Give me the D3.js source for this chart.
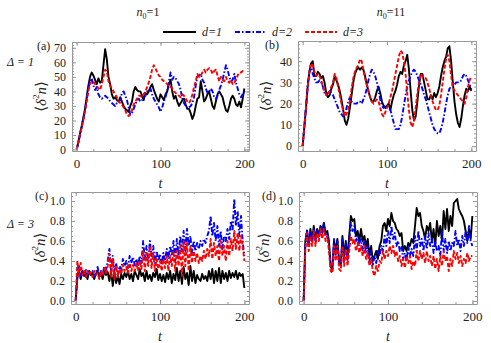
<!DOCTYPE html>
<html>
<head>
<meta charset="utf-8">
<script src="https://cdn.jsdelivr.net/npm/d3@7"></script>
<style>
  body { margin: 0; background: #fff; }
  text { font-family: "Liberation Serif", "DejaVu Serif", serif; fill: #222; }
</style>
</head>
<body>
<div id="chart-area"></div>
<script>
// time grid: t = 0, 2, ..., 200
var times = d3.range(0, 201, 2);

// (a) n0=1, Delta=1
var aD1 = [0,5,11,16,22,28,36,44,50,53,51,48,45,49,46,47,58,69,62,50,45,38,35,36,34,33,36,33,30,28,27,26,30,33,40,43,41,40,40,37,34,39,38,40,43,45,41,38,35,33,38,36,34,38,40,45,48,40,35,37,33,30,32,34,35,31,28,28,25,21,24,30,35,36,47,40,33,35,38,40,35,30,28,33,38,40,38,36,31,27,26,30,35,37,35,31,30,33,29,35,42];
var aD2 = [0,4,10,15,21,27,35,42,47,49,44,41,43,38,36,35,36,37,36,35,33,32,31,30,32,33,34,39,40,37,34,29,24,25,28,31,34,35,33,34,36,37,40,41,42,38,35,33,31,29,26,29,33,36,41,47,53,48,50,49,47,45,41,35,32,30,28,29,30,32,36,44,50,51,52,48,46,42,39,40,42,40,36,35,37,41,44,48,53,58,55,50,47,48,52,46,42,38,36,38,40];
var aD3 = [0,5,10,15,20,26,33,40,45,47,47,45,44,42,41,45,50,55,54,47,44,42,40,38,36,33,32,31,29,27,24,23,25,27,31,33,35,37,37,36,38,40,43,46,50,55,58,56,53,51,50,48,47,46,45,43,43,42,40,39,38,37,36,38,37,35,33,32,34,38,43,47,52,50,51,53,55,53,55,56,55,52,54,55,51,47,50,48,47,50,47,46,48,45,46,48,51,53,53,54,54];

// (b) n0=11, Delta=1
var bD1 = [0,9,18,28,35,39,40,33,33,35,34,32,33,30,25,23,24,27,29,33,31,29,26,22,17,12,10,13,18,24,30,34,36,37,36,37,36,33,29,26,23,21,21,23,26,28,25,21,19,18,19,20,17,21,24,26,29,33,35,34,38,40,43,36,26,17,12,14,21,29,34,34,30,26,22,22,24,22,25,23,25,28,33,37,40,42,46,47,40,30,21,15,11,9,13,19,24,27,26,28,26];
var bD2 = [0,9,19,29,35,37,34,32,30,30,31,30,28,25,24,25,26,25,24,22,20,18,16,15,14,15,18,21,23,21,20,20,20,21,21,20,22,24,27,31,34,36,35,33,30,26,22,19,18,19,19,18,17,14,11,8,8,8,10,14,19,24,28,31,33,35,36,35,33,31,29,27,24,22,19,16,13,10,8,7,6,6,8,11,15,20,24,27,28,29,29,30,30,30,31,33,34,33,31,29,27];
var bD3 = [0,9,18,28,35,39,38,35,33,34,33,31,28,26,24,24,26,28,30,34,32,28,24,20,17,14,15,17,21,27,32,35,37,38,41,40,36,32,29,26,23,21,20,21,22,21,18,15,14,16,18,20,23,26,30,34,38,42,45,44,40,34,25,17,11,9,12,18,25,30,34,33,32,32,30,27,24,21,19,17,17,19,24,30,36,41,43,40,33,28,26,25,24,23,22,21,20,23,28,31,33];

// (c) n0=1, Delta=3
var cD1 = [0,0.25,0.3,0.22,0.3,0.25,0.28,0.22,0.3,0.26,0.28,0.22,0.27,0.3,0.24,0.28,0.22,0.3,0.26,0.29,0.2,0.3,0.15,0.28,0.18,0.25,0.17,0.27,0.22,0.28,0.24,0.3,0.22,0.27,0.2,0.3,0.26,0.22,0.32,0.25,0.28,0.2,0.3,0.22,0.26,0.2,0.28,0.24,0.32,0.21,0.27,0.2,0.26,0.19,0.28,0.22,0.3,0.18,0.27,0.21,0.33,0.2,0.3,0.17,0.34,0.22,0.28,0.16,0.35,0.2,0.3,0.18,0.26,0.22,0.2,0.27,0.22,0.25,0.2,0.3,0.22,0.32,0.18,0.3,0.2,0.33,0.18,0.3,0.22,0.28,0.2,0.3,0.23,0.28,0.24,0.3,0.22,0.28,0.25,0.27,0.13];
var cD2 = [0,0.22,0.35,0.25,0.3,0.27,0.32,0.24,0.3,0.27,0.3,0.25,0.28,0.34,0.26,0.3,0.26,0.35,0.3,0.4,0.52,0.3,0.45,0.3,0.38,0.26,0.35,0.32,0.42,0.35,0.4,0.33,0.45,0.38,0.44,0.36,0.42,0.35,0.45,0.38,0.6,0.42,0.55,0.4,0.6,0.45,0.55,0.38,0.5,0.4,0.47,0.36,0.48,0.4,0.52,0.42,0.55,0.45,0.6,0.4,0.62,0.45,0.65,0.5,0.7,0.5,0.72,0.55,0.65,0.48,0.6,0.5,0.58,0.52,0.6,0.55,0.62,0.58,0.65,0.7,0.85,0.65,0.78,0.6,0.75,0.55,0.7,0.52,0.65,0.6,0.72,0.62,0.8,0.7,1.02,0.75,0.9,0.65,0.85,0.6,0.45];
var cD3 = [0,0.4,0.25,0.38,0.26,0.3,0.24,0.3,0.26,0.29,0.24,0.3,0.26,0.28,0.22,0.3,0.25,0.33,0.28,0.35,0.47,0.24,0.42,0.22,0.35,0.24,0.32,0.27,0.36,0.3,0.34,0.28,0.38,0.3,0.36,0.3,0.38,0.3,0.4,0.32,0.5,0.3,0.48,0.35,0.55,0.33,0.48,0.3,0.42,0.32,0.4,0.3,0.42,0.33,0.45,0.3,0.45,0.35,0.5,0.3,0.5,0.35,0.55,0.25,0.6,0.35,0.58,0.3,0.55,0.38,0.5,0.4,0.48,0.38,0.45,0.4,0.5,0.42,0.52,0.45,0.62,0.42,0.58,0.45,0.55,0.4,0.6,0.45,0.55,0.4,0.6,0.45,0.62,0.5,0.7,0.52,0.68,0.5,0.65,0.55,0.4];

// (d) n0=11, Delta=3
var dD1 = [0,0.6,0.7,0.55,0.72,0.6,0.75,0.62,0.72,0.65,0.75,0.7,0.78,0.68,0.7,0.6,0.35,0.3,0.6,0.5,0.62,0.4,0.35,0.65,0.45,0.6,0.42,0.65,0.85,0.8,0.82,0.65,0.7,0.6,0.72,0.6,0.65,0.55,0.62,0.45,0.55,0.4,0.45,0.5,0.42,0.55,0.6,0.75,0.78,0.7,0.82,0.75,0.88,0.8,0.78,0.72,0.7,0.65,0.68,0.5,0.55,0.5,0.58,0.55,0.62,0.58,0.75,0.93,0.85,0.88,0.75,0.7,0.62,0.75,0.7,0.78,0.6,0.72,0.55,0.8,0.65,0.75,0.6,0.9,0.72,0.92,0.7,0.85,0.75,0.98,1.0,1.02,0.92,0.88,0.85,0.8,0.7,0.6,0.72,0.62,0.85];
var dD2 = [0,0.55,0.72,0.55,0.7,0.6,0.72,0.6,0.7,0.65,0.75,0.68,0.78,0.65,0.68,0.55,0.35,0.32,0.62,0.45,0.6,0.38,0.35,0.62,0.4,0.58,0.4,0.6,0.78,0.7,0.75,0.6,0.65,0.55,0.62,0.5,0.6,0.48,0.55,0.38,0.5,0.35,0.45,0.38,0.5,0.45,0.55,0.5,0.65,0.55,0.7,0.58,0.75,0.62,0.68,0.55,0.6,0.5,0.55,0.42,0.48,0.4,0.55,0.45,0.52,0.45,0.65,0.5,0.7,0.55,0.62,0.5,0.65,0.52,0.68,0.55,0.62,0.48,0.6,0.5,0.55,0.45,0.7,0.5,0.62,0.48,0.6,0.5,0.58,0.55,0.7,0.55,0.62,0.5,0.65,0.55,0.7,0.58,0.75,0.6,0.55];
var dD3 = [0,0.52,0.68,0.5,0.65,0.55,0.7,0.55,0.68,0.6,0.72,0.62,0.72,0.6,0.65,0.5,0.3,0.28,0.55,0.4,0.55,0.32,0.3,0.55,0.35,0.52,0.35,0.5,0.65,0.58,0.62,0.5,0.58,0.48,0.55,0.45,0.55,0.42,0.48,0.35,0.42,0.3,0.25,0.35,0.3,0.4,0.38,0.5,0.42,0.5,0.45,0.55,0.48,0.55,0.45,0.5,0.4,0.45,0.35,0.42,0.33,0.45,0.38,0.45,0.32,0.4,0.35,0.5,0.4,0.5,0.42,0.48,0.38,0.5,0.4,0.45,0.35,0.45,0.32,0.42,0.3,0.45,0.35,0.5,0.4,0.45,0.3,0.42,0.35,0.5,0.42,0.48,0.38,0.45,0.35,0.42,0.38,0.48,0.4,0.45,0.45];

var seriesNames = ["d=1", "d=2", "d=3"];
var seriesColors = ["#000000", "#0000ff", "#ff0000"];
var seriesDash = [null, "5,2,1.5,2", "4,2"];

var xTicks = [0, 100, 200];
var yTicksTop = [0, 10, 20, 30, 40, 50, 60, 70];
var yTicksB = [0, 10, 20, 30, 40];
var yTicksBottom = [0.0, 0.2, 0.4, 0.6, 0.8, 1.0];

var panels = [
    { tag: "(a)", left: 72, right: 249, top: 42, bottom: 151, yDom: [-1, 74],
      yTicks: yTicksTop, yMinor: d3.range(0, 75, 2), fmt: d3.format("d"),
      data: [aD1, aD2, aD3], ylabX: 43, tagX: 37 },
    { tag: "(b)", left: 298, right: 476, top: 41, bottom: 151, yDom: [-2.3, 49.5],
      yTicks: yTicksB, yMinor: d3.range(0, 50, 2), fmt: d3.format("d"),
      data: [bD1, bD2, bD3], ylabX: 268, tagX: 265 },
    { tag: "(c)", left: 71, right: 249, top: 192, bottom: 304, yDom: [-0.03, 1.09],
      yTicks: yTicksBottom, yMinor: d3.range(0, 1.09, 0.05), fmt: d3.format(".1f"),
      data: [cD1, cD2, cD3], ylabX: 42, tagX: 35 },
    { tag: "(d)", left: 299, right: 477, top: 192, bottom: 304, yDom: [-0.03, 1.09],
      yTicks: yTicksBottom, yMinor: d3.range(0, 1.09, 0.05), fmt: d3.format(".1f"),
      data: [dD1, dD2, dD3], ylabX: 266, tagX: 262 }
];

var svg = d3.select("#chart-area")
    .append("svg")
    .attr("width", 491)
    .attr("height", 343);

var xMinor = d3.range(0, 201, 20);

panels.forEach(function (p) {
    var x = d3.scaleLinear().domain([-5.5, 205.5]).range([p.left, p.right]);
    var y = d3.scaleLinear().domain(p.yDom).range([p.bottom, p.top]);

    var g = svg.append("g");

    // clip so lines stay inside the frame
    var clipId = "clip" + p.tag.replace(/[()]/g, "");
    svg.append("clipPath").attr("id", clipId)
        .append("rect")
        .attr("x", p.left).attr("y", p.top)
        .attr("width", p.right - p.left).attr("height", p.bottom - p.top);

    var line = d3.line()
        .x(function (d, i) { return x(times[i]); })
        .y(function (d) { return y(d); });

    p.data.forEach(function (s, k) {
        g.append("path")
            .datum(s)
            .attr("clip-path", "url(#" + clipId + ")")
            .attr("fill", "none")
            .attr("stroke", seriesColors[k])
            .attr("stroke-width", 1.9)
            .attr("stroke-linejoin", "round")
            .attr("stroke-dasharray", seriesDash[k])
            .attr("d", line);
    });

    // frame axes: ticks point inward
    function styleAxis(sel) {
        sel.select(".domain").attr("stroke", "#999").attr("stroke-width", 1);
        sel.selectAll(".tick line").attr("stroke", "#999");
        sel.selectAll("text").attr("font-size", "12px").attr("fill", "#222")
            .attr("font-family", "Liberation Serif");
    }

    var xb = g.append("g").attr("transform", "translate(0," + p.bottom + ")")
        .call(d3.axisBottom(x).tickValues(xMinor).tickFormat("").tickSizeInner(-2).tickSizeOuter(0));
    styleAxis(xb);
    var xbMaj = g.append("g").attr("transform", "translate(0," + p.bottom + ")")
        .call(d3.axisBottom(x).tickValues(xTicks).tickFormat(d3.format("d")).tickSizeInner(-4).tickSizeOuter(0).tickPadding(8));
    styleAxis(xbMaj);
    xbMaj.select(".domain").remove();
    xbMaj.selectAll("text").attr("font-size", "13px");

    var xt = g.append("g").attr("transform", "translate(0," + p.top + ")")
        .call(d3.axisTop(x).tickValues(xMinor).tickFormat("").tickSizeInner(-2).tickSizeOuter(0));
    styleAxis(xt);
    var xtMaj = g.append("g").attr("transform", "translate(0," + p.top + ")")
        .call(d3.axisTop(x).tickValues(xTicks).tickFormat("").tickSizeInner(-4).tickSizeOuter(0));
    styleAxis(xtMaj);
    xtMaj.select(".domain").remove();

    var yl = g.append("g").attr("transform", "translate(" + p.left + ",0)")
        .call(d3.axisLeft(y).tickValues(p.yMinor).tickFormat("").tickSizeInner(-2).tickSizeOuter(0));
    styleAxis(yl);
    var ylMaj = g.append("g").attr("transform", "translate(" + p.left + ",0)")
        .call(d3.axisLeft(y).tickValues(p.yTicks).tickFormat(p.fmt).tickSizeInner(-4).tickSizeOuter(0).tickPadding(6));
    styleAxis(ylMaj);
    ylMaj.select(".domain").remove();

    var yr = g.append("g").attr("transform", "translate(" + p.right + ",0)")
        .call(d3.axisRight(y).tickValues(p.yMinor).tickFormat("").tickSizeInner(-2).tickSizeOuter(0));
    styleAxis(yr);
    var yrMaj = g.append("g").attr("transform", "translate(" + p.right + ",0)")
        .call(d3.axisRight(y).tickValues(p.yTicks).tickFormat("").tickSizeInner(-4).tickSizeOuter(0));
    styleAxis(yrMaj);
    yrMaj.select(".domain").remove();

    // panel tag
    g.append("text")
        .attr("x", p.tagX)
        .attr("y", p.top + 8)
        .attr("font-size", "12px")
        .text(p.tag);

    // x label
    g.append("text")
        .attr("x", (p.left + p.right) / 2)
        .attr("y", p.bottom + 37)
        .attr("text-anchor", "middle")
        .attr("font-size", "14px")
        .attr("font-style", "italic")
        .text("t");

    // y label <δ²n>
    var cy = (p.top + p.bottom) / 2;
    var yt = g.append("text")
        .attr("transform", "translate(" + p.ylabX + "," + cy + ") rotate(-90)")
        .attr("text-anchor", "middle")
        .attr("dominant-baseline", "middle")
        .attr("font-size", "15px");
    yt.append("tspan").text("\u27E8");
    yt.append("tspan").attr("font-style", "italic").text("\u03B4");
    yt.append("tspan").attr("font-size", "9px").attr("dy", -6).text("2");
    yt.append("tspan").attr("font-style", "italic").attr("dy", 6).text("n");
    yt.append("tspan").text("\u27E9");
});

// column titles
function nLabel(xc, val) {
    var t = svg.append("text").attr("x", xc).attr("y", 16)
        .attr("text-anchor", "middle").attr("font-size", "12px");
    t.append("tspan").attr("font-style", "italic").text("n");
    t.append("tspan").attr("font-size", "8px").attr("dy", 3).text("0");
    t.append("tspan").attr("dy", -3).text("=" + val);
}
nLabel(148, "1");
nLabel(391, "11");

// row labels
svg.append("text").attr("x", 7).attr("y", 66).attr("font-size", "12px")
    .attr("font-style", "italic").text("\u0394 = 1");
svg.append("text").attr("x", 7).attr("y", 228).attr("font-size", "12px")
    .attr("font-style", "italic").text("\u0394 = 3");

// legend
var legX = [163, 235, 305];
var legLen = [33, 31, 32];
seriesNames.forEach(function (name, k) {
    svg.append("line")
        .attr("x1", legX[k]).attr("x2", legX[k] + legLen[k])
        .attr("y1", 32).attr("y2", 32)
        .attr("stroke", seriesColors[k])
        .attr("stroke-width", 1.9)
        .attr("stroke-dasharray", seriesDash[k]);
    svg.append("text")
        .attr("x", legX[k] + legLen[k] + 6)
        .attr("y", 36)
        .attr("font-size", "12px")
        .attr("font-style", "italic")
        .text(name);
});
</script>
</body>
</html>
